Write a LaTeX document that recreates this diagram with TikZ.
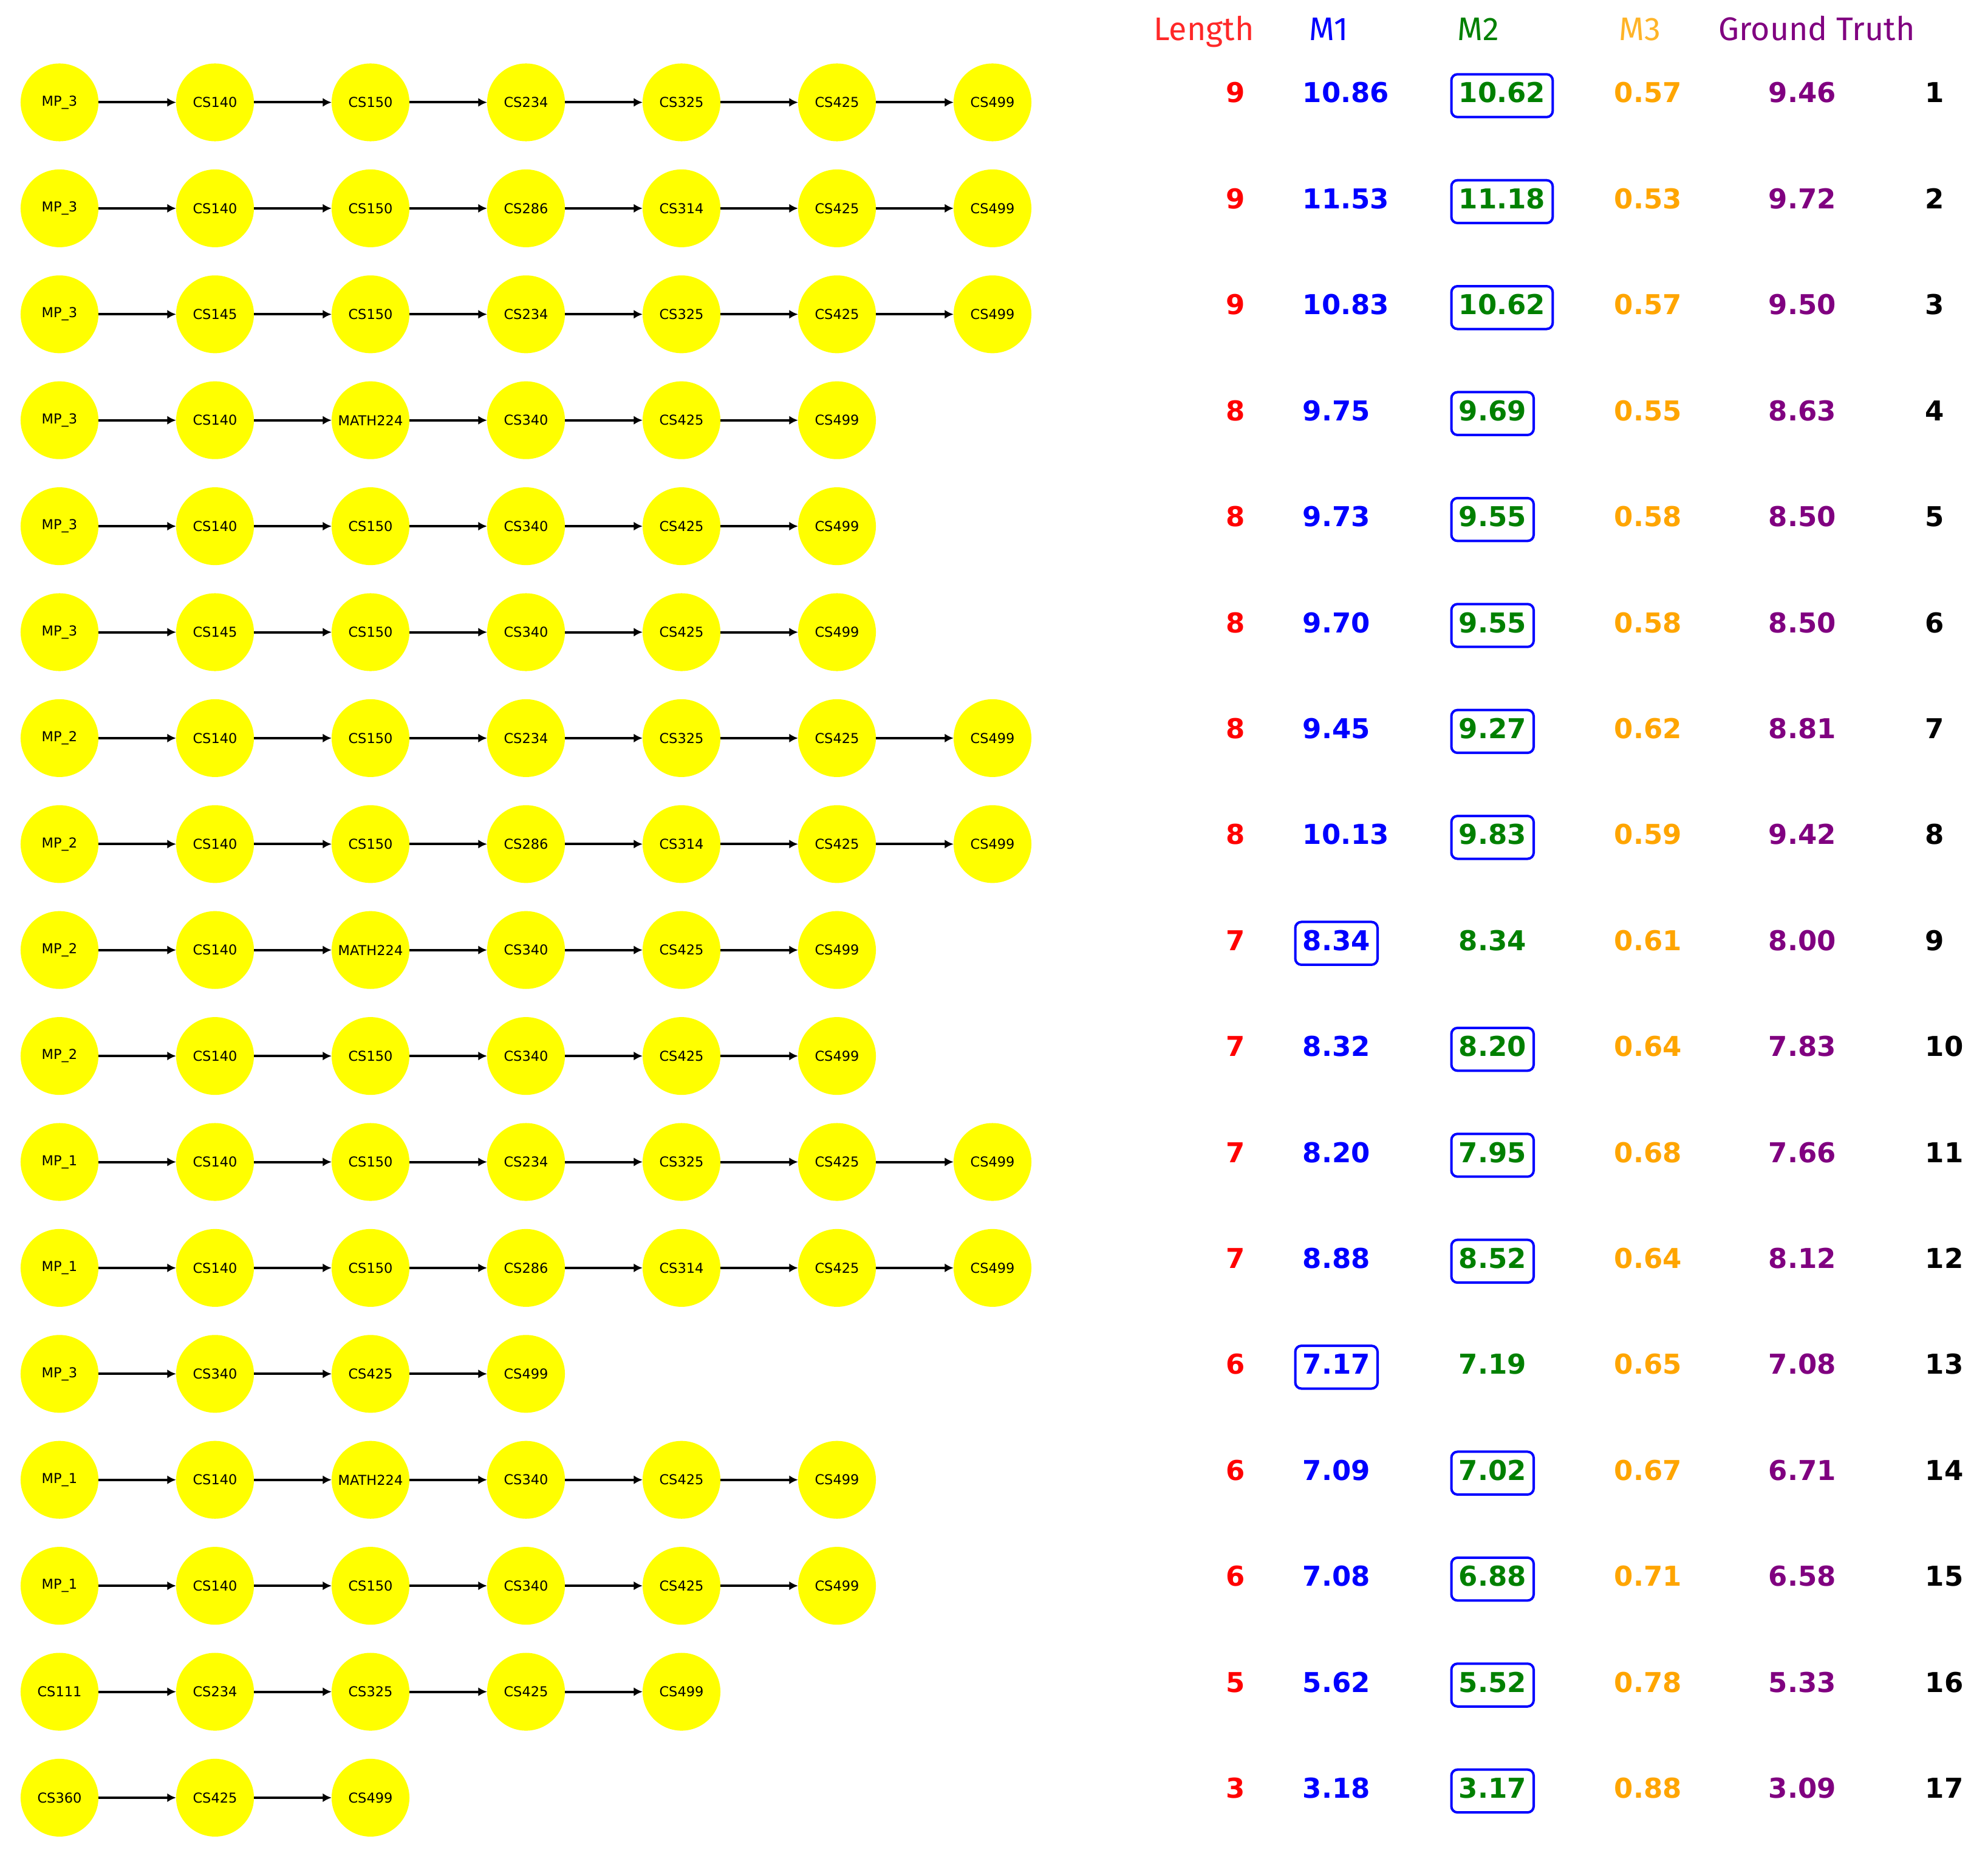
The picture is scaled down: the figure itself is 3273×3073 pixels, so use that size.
\documentclass[tikz,border=0pt]{standalone}
\usepackage{fontspec}
\setmainfont{DejaVu Sans}
\newfontfamily\hdrfont{Fira Sans}
\usetikzlibrary{arrows.meta,fit}
\definecolor{cred}{RGB}{255,0,0}
\definecolor{cblue}{RGB}{0,0,255}
\definecolor{cgreen}{RGB}{0,128,0}
\definecolor{corange}{RGB}{255,165,0}
\definecolor{cpurple}{RGB}{128,0,128}
\definecolor{hred}{RGB}{255,40,40}
\definecolor{horange}{RGB}{255,180,40}
\definecolor{cyellow}{RGB}{255,255,0}
\begin{document}
\begin{tikzpicture}[x=0.01cm,y=-0.01cm,
  course/.style={circle, fill=cyellow, minimum size=1.28cm, inner sep=0pt, outer sep=0pt,
    font=\fontsize{6.4}{7}\selectfont},
  link/.style={-{Latex[length=0.145cm,width=0.145cm]}, line width=0.04cm, black},
  hdr/.style={anchor=base, inner sep=0pt, font=\hdrfont\fontsize{15.3}{18}\selectfont},
  val/.style={anchor=base west, inner sep=0pt, text height=0.33cm, text depth=0.1cm,
    font=\bfseries\fontsize{12.8}{14}\selectfont},
  hlbox/.style={draw=cblue, line width=0.04cm, rounded corners=0.1cm, inner xsep=0.115cm, inner ysep=0.13cm}
]
\useasboundingbox (0,0) rectangle (3273,3073);

% headers
\node[hdr, text=hred] (hL) at (1982,67) {Length};
\node[hdr, text=cblue] (hM1) at (2188,67) {M1};
\node[hdr, text=cgreen] (hM2) at (2434,67) {M2};
\node[hdr, text=horange] (hM3) at (2700,67) {M3};
\node[hdr, text=cpurple] (hGT) at (2991,67) {Ground Truth};

% paths
\foreach \r/\k/\names in {
  1/7/{MP\_3,CS140,CS150,CS234,CS325,CS425,CS499},
  2/7/{MP\_3,CS140,CS150,CS286,CS314,CS425,CS499},
  3/7/{MP\_3,CS145,CS150,CS234,CS325,CS425,CS499},
  4/6/{MP\_3,CS140,MATH224,CS340,CS425,CS499},
  5/6/{MP\_3,CS140,CS150,CS340,CS425,CS499},
  6/6/{MP\_3,CS145,CS150,CS340,CS425,CS499},
  7/7/{MP\_2,CS140,CS150,CS234,CS325,CS425,CS499},
  8/7/{MP\_2,CS140,CS150,CS286,CS314,CS425,CS499},
  9/6/{MP\_2,CS140,MATH224,CS340,CS425,CS499},
  10/6/{MP\_2,CS140,CS150,CS340,CS425,CS499},
  11/7/{MP\_1,CS140,CS150,CS234,CS325,CS425,CS499},
  12/7/{MP\_1,CS140,CS150,CS286,CS314,CS425,CS499},
  13/4/{MP\_3,CS340,CS425,CS499},
  14/6/{MP\_1,CS140,MATH224,CS340,CS425,CS499},
  15/6/{MP\_1,CS140,CS150,CS340,CS425,CS499},
  16/5/{CS111,CS234,CS325,CS425,CS499},
  17/3/{CS360,CS425,CS499}} {
  \foreach \t [count=\c] in \names {
    \node[course] (n\r-\c) at ({98+256*(\c-1)},{168.5+174.4*(\r-1)}) {\t};
  }
  \foreach \c in {2,...,\k} {
    \pgfmathtruncatemacro{\p}{\c-1}
    \draw[link] (n\r-\p) -- (n\r-\c);
  }
}

% values: row / length / M1 / M2 / M3 / GT / boxed column (1 = M1, 2 = M2)
\foreach \r/\L/\a/\b/\m/\g/\bx in {
  1/9/10.86/10.62/0.57/9.46/2,
  2/9/11.53/11.18/0.53/9.72/2,
  3/9/10.83/10.62/0.57/9.50/2,
  4/8/9.75/9.69/0.55/8.63/2,
  5/8/9.73/9.55/0.58/8.50/2,
  6/8/9.70/9.55/0.58/8.50/2,
  7/8/9.45/9.27/0.62/8.81/2,
  8/8/10.13/9.83/0.59/9.42/2,
  9/7/8.34/8.34/0.61/8.00/1,
  10/7/8.32/8.20/0.64/7.83/2,
  11/7/8.20/7.95/0.68/7.66/2,
  12/7/8.88/8.52/0.64/8.12/2,
  13/6/7.17/7.19/0.65/7.08/1,
  14/6/7.09/7.02/0.67/6.71/2,
  15/6/7.08/6.88/0.71/6.58/2,
  16/5/5.62/5.52/0.78/5.33/2,
  17/3/3.18/3.17/0.88/3.09/2} {
  \pgfmathsetmacro{\yy}{169+174.4*(\r-1)}
  \node[val, text=cred] (vL-\r) at (2018,\yy) {\L};
  \node[val, text=cblue] (v1-\r) at (2144,\yy) {\a};
  \node[val, text=cgreen] (v2-\r) at (2401,\yy) {\b};
  \node[val, text=corange] (v3-\r) at (2657,\yy) {\m};
  \node[val, text=cpurple] (vG-\r) at (2911,\yy) {\g};
  \node[val, text=black] (vN-\r) at (3169,\yy) {\r};
  \node[hlbox, fit=(v\bx-\r)] (box-\r) {};
}
\end{tikzpicture}
\end{document}
